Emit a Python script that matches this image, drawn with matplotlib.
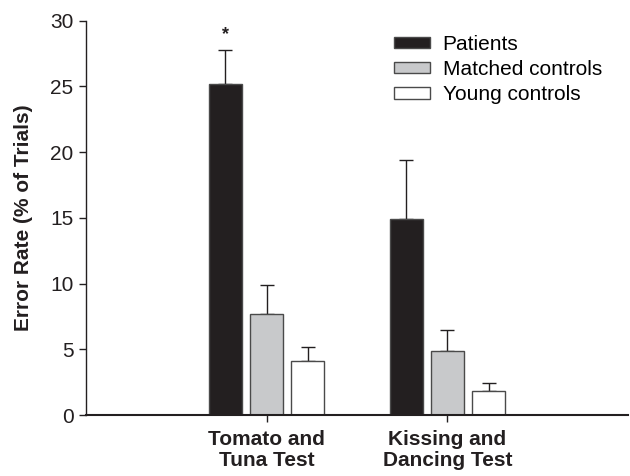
import matplotlib.pyplot as plt
import numpy as np

plt.rcParams['font.family'] = ['Liberation Sans', 'DejaVu Sans']

# data
groups = ['Tomato and\nTuna Test', 'Kissing and\nDancing Test']
series = ['Patients', 'Matched controls', 'Young controls']
patients = [25.2, 14.9]
matched = [7.7, 4.9]
young = [4.1, 1.8]
patients_err = [2.6, 4.5]
matched_err = [2.2, 1.6]
young_err = [1.1, 0.65]

colors = ['#231f20', '#c8c9cb', '#ffffff']
ink = '#231f20'

fig = plt.figure(figsize=(6.3, 4.76), dpi=100)
ax = fig.add_axes([0.1365, 0.128, 0.8605, 0.8285])

x = np.array([1, 2])
width = 0.183
step = 0.228
values = [patients, matched, young]
errors = [patients_err, matched_err, young_err]
for i, (vals, errs, col, lab) in enumerate(zip(values, errors, colors, series)):
    pos = x + (i - 1) * step
    ax.bar(pos, vals, width, color=col, edgecolor='#4a4a4a', linewidth=1.0,
           label=lab, zorder=2)
    ax.errorbar(pos, vals, yerr=[np.zeros(len(vals)), errs], fmt='none',
                ecolor=ink, elinewidth=1.0, capsize=4.7, capthick=1.0, zorder=1)

# significance marker
ax.text(x[0] - step, patients[0] + patients_err[0] + 0.5, '*', ha='center',
        va='bottom', fontsize=13, fontweight='bold', color=ink)

ax.set_xlim(0, 3)
ax.set_ylim(0, 30)
ax.set_yticks(range(0, 31, 5))
ax.set_xticks(x)
ax.set_xticklabels(groups, fontsize=15, fontweight='bold', color=ink,
                   linespacing=1.1)
ax.tick_params(axis='y', labelsize=15, colors=ink, length=5, width=1, pad=4)
ax.tick_params(axis='x', length=5, width=1, color=ink, pad=6)
ax.set_ylabel('Error Rate (% of Trials)', fontsize=15, fontweight='bold',
              color=ink, labelpad=12)

for s in ['top', 'right']:
    ax.spines[s].set_visible(False)
ax.spines['left'].set_color(ink)
ax.spines['left'].set_linewidth(1.0)
ax.spines['bottom'].set_color(ink)
ax.spines['bottom'].set_linewidth(1.5)

ax.legend(loc='upper left', bbox_to_anchor=(0.552, 0.985), frameon=False,
          fontsize=15, handlelength=1.75, handleheight=0.45, handletextpad=0.6,
          labelspacing=0.3, borderaxespad=0)

plt.savefig('out.png', dpi=100)
